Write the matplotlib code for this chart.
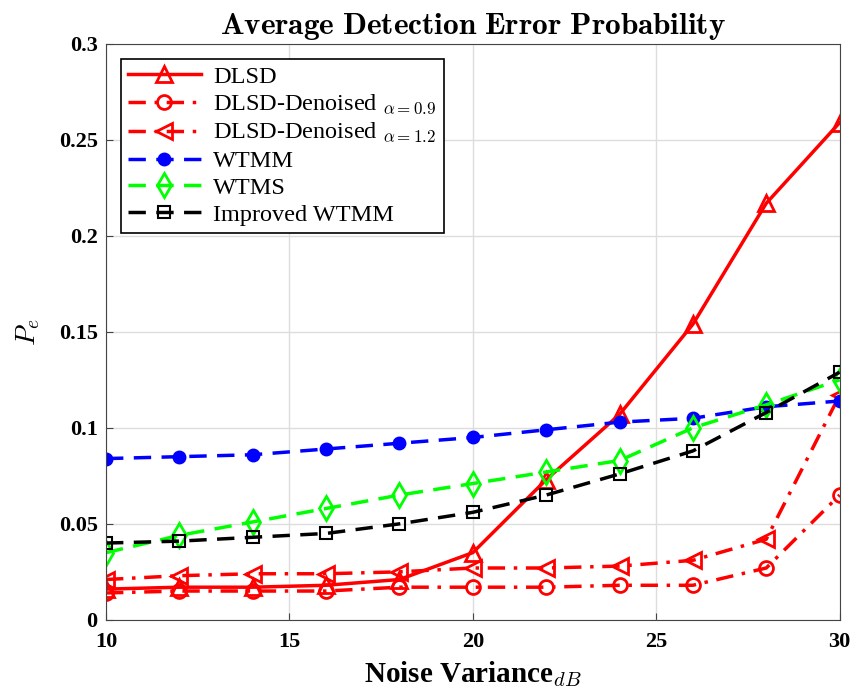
import matplotlib.pyplot as plt

plt.rcParams['font.family'] = ['Liberation Serif', 'DejaVu Serif']
plt.rcParams['mathtext.fontset'] = 'cm'

noise_db = [10, 12, 14, 16, 18, 20, 22, 24, 26, 28, 30]

dlsd = [0.016, 0.017, 0.017, 0.018, 0.021, 0.035, 0.073, 0.107, 0.154, 0.217, 0.259]
dlsd_den_09 = [0.014, 0.015, 0.015, 0.015, 0.017, 0.017, 0.017, 0.018, 0.018, 0.027, 0.065]
dlsd_den_12 = [0.021, 0.023, 0.024, 0.024, 0.025, 0.027, 0.027, 0.028, 0.031, 0.042, 0.117]
wtmm = [0.084, 0.085, 0.086, 0.089, 0.092, 0.095, 0.099, 0.103, 0.105, 0.111, 0.114]
wtms = [0.035, 0.044, 0.051, 0.058, 0.065, 0.071, 0.077, 0.083, 0.100, 0.112, 0.125]
improved_wtmm = [0.040, 0.041, 0.043, 0.045, 0.050, 0.056, 0.065, 0.076, 0.088, 0.108, 0.129]

fig = plt.figure(figsize=(8.55, 6.98), dpi=100)
ax = fig.add_axes([0.124, 0.112, 0.858, 0.825])

dash = (5, 3)
dashdot = (5, 2.5, 1, 2.5)

ax.plot(noise_db, dlsd, '-', color='red', lw=2.5, marker='^', ms=12,
        mfc='none', mew=2, label='DLSD')
ax.plot(noise_db, dlsd_den_09, color='red', lw=2.5, dashes=dashdot, marker='o', ms=10,
        mfc='none', mew=2, label=r'DLSD-Denoised $_{\alpha=0.9}$')
ax.plot(noise_db, dlsd_den_12, color='red', lw=2.5, dashes=dashdot, marker='<', ms=11,
        mfc='none', mew=2, label=r'DLSD-Denoised $_{\alpha=1.2}$')
ax.plot(noise_db, wtmm, color='blue', lw=2.5, dashes=dash, marker='o', ms=9,
        mfc='blue', label='WTMM')
ax.plot(noise_db, wtms, color='#00ff00', lw=2.5, dashes=dash, marker='d', ms=12,
        mfc='none', mew=2, label='WTMS')
ax.plot(noise_db, improved_wtmm, color='black', lw=2.5, dashes=dash, marker='s', ms=8,
        mfc='none', mew=1.5, label='Improved WTMM')

ax.set_xlim(10, 30)
ax.set_ylim(0, 0.3)
ax.set_xticks([10, 15, 20, 25, 30])
ax.set_yticks([0, 0.05, 0.1, 0.15, 0.2, 0.25, 0.3])
ax.set_yticklabels(['0', '0.05', '0.1', '0.15', '0.2', '0.25', '0.3'])
for lbl in ax.get_xticklabels() + ax.get_yticklabels():
    lbl.set_fontweight('bold')
    lbl.set_fontsize(16)
ax.tick_params(axis='x', direction='in', length=5, color='#444444', pad=9)
ax.tick_params(axis='y', direction='in', length=5, color='#444444', pad=6)
ax.grid(True, color='#dddddd', lw=1)
for s in ax.spines.values():
    s.set_color('#444444')

ax.set_title(r'$\mathbf{Average\ Detection\ Error\ Probability}$', fontsize=22.5, pad=7)
ax.set_xlabel(r'Noise Variance$_{dB}$', fontsize=21, fontweight='bold', labelpad=5)
ax.set_ylabel(r'$P_e$', fontsize=20, labelpad=12)

leg = ax.legend(loc='upper left', fontsize=17.5, fancybox=False, framealpha=1,
                edgecolor='black', handlelength=3.0, borderpad=0.3, labelspacing=0.2,
                borderaxespad=0.6, handletextpad=0.5)
leg.get_frame().set_linewidth(1.2)

fig.savefig('out.png', dpi=100)
